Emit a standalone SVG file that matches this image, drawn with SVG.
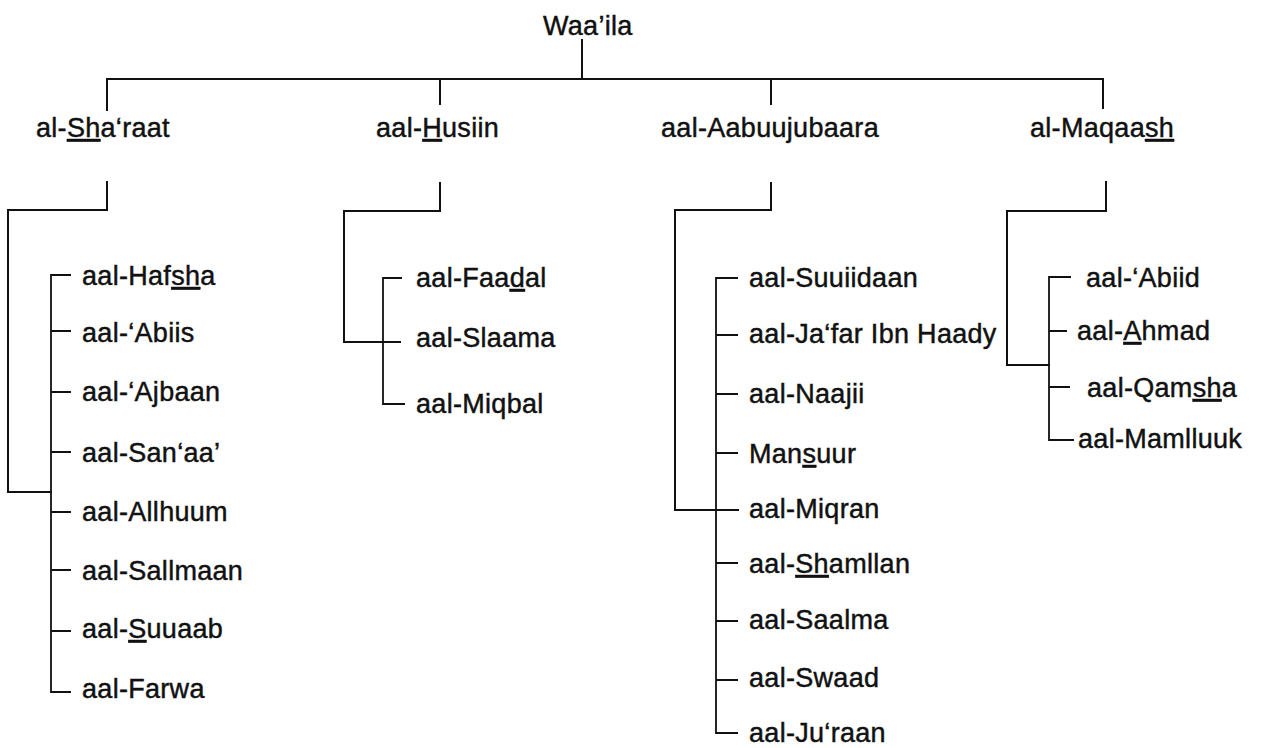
<svg xmlns="http://www.w3.org/2000/svg" width="1261" height="748" viewBox="0 0 1261 748">
  <style>
    text { font-family: "Liberation Sans", Arial, sans-serif; font-size: 27px; fill: #111; stroke: #111; stroke-width: 0.45; letter-spacing: 0.3px; }
    .u { text-decoration: underline; }
    .link { fill: none; stroke: #111; stroke-width: 2; stroke-linecap: square; }
    .tick { fill: none; stroke: #111; stroke-width: 1.8; }
  </style>
  <rect width="1261" height="748" fill="#fff"/>

  <!-- connectors -->
  <g id="connectors">
    <!-- root to the four lineages -->
    <path class="link" d="M582,40 V79"/>
    <path class="link" d="M107,110 V79 H1103 V108"/>
    <path class="link" d="M440,79 V104"/>
    <path class="link" d="M771,79 V104"/>

    <!-- al-Sha'raat branch -->
    <path class="link" d="M107,182 V210 H8 V492 H51"/>
    <path class="tick" d="M71,275 H51 V692 H71"/>
    <path class="tick" d="M51,331 H71 M51,392 H71 M51,452 H71 M51,512 H71 M51,570 H71 M51,631 H71"/>

    <!-- aal-Husiin branch -->
    <path class="link" d="M440,183 V211 H344 V342 H400"/>
    <path class="tick" d="M402,278 H383 V404 H405"/>

    <!-- aal-Aabuujubaara branch -->
    <path class="link" d="M771,183 V210 H675 V510 H738"/>
    <path class="tick" d="M738,278 H716 V733 H738"/>
    <path class="tick" d="M716,335 H738 M716,394 H738 M716,453 H738 M716,563 H738 M716,621 H738 M716,680 H738"/>

    <!-- al-Maqaash branch -->
    <path class="link" d="M1106,182 V211 H1007 V365 H1049"/>
    <path class="tick" d="M1071,277 H1049 V440 H1074"/>
    <path class="tick" d="M1049,331 H1067 M1049,387 H1070"/>
  </g>

  <!-- root -->
  <g id="n-waaila"><text x="543" y="35">Waa’ila</text></g>

  <!-- lineages -->
  <g id="n-sharaat"><text x="36" y="137">al-<tspan class="u">Sh</tspan>a‘raat</text></g>
  <g id="n-husiin"><text x="376" y="137">aal-<tspan class="u">H</tspan>usiin</text></g>
  <g id="n-aabuujubaara"><text x="661" y="137">aal-Aabuujubaara</text></g>
  <g id="n-maqaash"><text x="1030" y="137">al-Maqaa<tspan class="u">sh</tspan></text></g>

  <!-- al-Sha'raat houses -->
  <g id="n-hafsha"><text x="82" y="285">aal-Haf<tspan class="u">sh</tspan>a</text></g>
  <g id="n-abiis"><text x="82" y="342">aal-‘Abiis</text></g>
  <g id="n-ajbaan"><text x="82" y="401">aal-‘Ajbaan</text></g>
  <g id="n-sanaa"><text x="82" y="462">aal-San‘aa’</text></g>
  <g id="n-allhuum"><text x="82" y="521">aal-Allhuum</text></g>
  <g id="n-sallmaan"><text x="82" y="580">aal-Sallmaan</text></g>
  <g id="n-suuaab"><text x="82" y="638">aal-<tspan class="u">S</tspan>uuaab</text></g>
  <g id="n-farwa"><text x="82" y="698">aal-Farwa</text></g>

  <!-- aal-Husiin houses -->
  <g id="n-faadal"><text x="416" y="287">aal-Faa<tspan class="u">d</tspan>al</text></g>
  <g id="n-slaama"><text x="416" y="347">aal-Slaama</text></g>
  <g id="n-miqbal"><text x="416" y="413">aal-Miqbal</text></g>

  <!-- aal-Aabuujubaara houses -->
  <g id="n-suuiidaan"><text x="749" y="287">aal-Suuiidaan</text></g>
  <g id="n-jafar"><text x="749" y="343">aal-Ja‘far Ibn Haady</text></g>
  <g id="n-naajii"><text x="749" y="403">aal-Naajii</text></g>
  <g id="n-mansuur"><text x="749" y="463">Man<tspan class="u">s</tspan>uur</text></g>
  <g id="n-miqran"><text x="749" y="518">aal-Miqran</text></g>
  <g id="n-shamllan"><text x="749" y="573">aal-<tspan class="u">Sh</tspan>amllan</text></g>
  <g id="n-saalma"><text x="749" y="629">aal-Saalma</text></g>
  <g id="n-swaad"><text x="749" y="687">aal-Swaad</text></g>
  <g id="n-juraan"><text x="749" y="742">aal-Ju‘raan</text></g>

  <!-- al-Maqaash houses -->
  <g id="n-abiid"><text x="1086" y="287">aal-‘Abiid</text></g>
  <g id="n-ahmad"><text x="1077" y="340">aal-<tspan class="u">A</tspan>hmad</text></g>
  <g id="n-qamsha"><text x="1087" y="397">aal-Qam<tspan class="u">sh</tspan>a</text></g>
  <g id="n-mamlluuk"><text x="1078" y="448">aal-Mamlluuk</text></g>
</svg>
